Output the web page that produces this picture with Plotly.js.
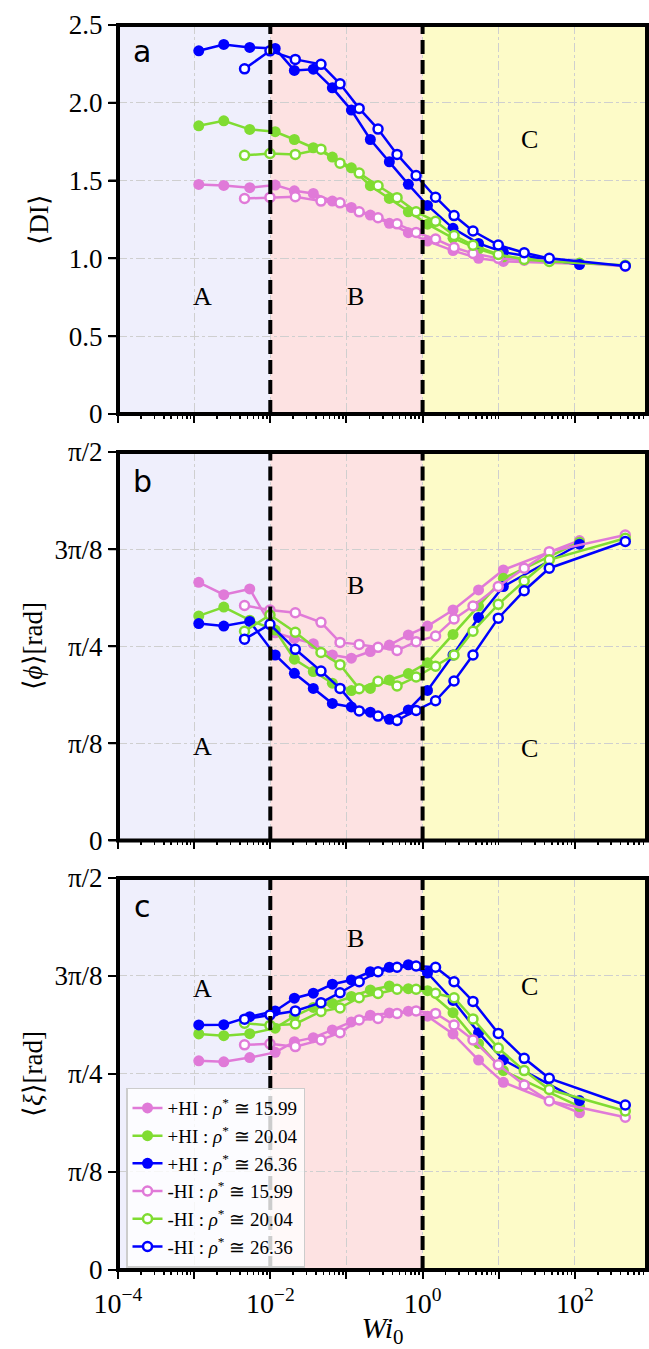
<!DOCTYPE html>
<html><head><meta charset="utf-8">
<script src="https://cdn.plot.ly/plotly-3.0.1.min.js"></script>
<style>html,body{margin:0;padding:0;background:#fff}</style>
</head><body><div id="chart" style="width:649px;height:1349px"></div>
<script>
// x values (Wi0) for +HI (filled) and -HI (open) runs
const wiPlusHI  = [0.00115, 0.00245, 0.00537, 0.0116, 0.0207, 0.0367, 0.0653, 0.116, 0.206, 0.366, 0.650, 1.16, 2.51, 5.43, 11.5, 115];
const wiMinusHI = [0.00459, 0.0099, 0.0213, 0.0463, 0.0824, 0.147, 0.26, 0.462, 0.822, 1.48, 2.59, 4.59, 9.86, 21.6, 46.1, 459];

const seriesLabels = [
  '+HI : <i>ρ</i><sup>*</sup> ≅ 15.99',
  '+HI : <i>ρ</i><sup>*</sup> ≅ 20.04',
  '+HI : <i>ρ</i><sup>*</sup> ≅ 26.36',
  '-HI : <i>ρ</i><sup>*</sup> ≅ 15.99',
  '-HI : <i>ρ</i><sup>*</sup> ≅ 20.04',
  '-HI : <i>ρ</i><sup>*</sup> ≅ 26.36'
];

// panel a: <DI>
const diPlus1599  = [1.475, 1.469, 1.454, 1.471, 1.434, 1.417, 1.368, 1.327, 1.278, 1.225, 1.165, 1.111, 1.05, 1.0, 0.98, 0.965];
const diPlus2004  = [1.852, 1.884, 1.829, 1.814, 1.764, 1.711, 1.651, 1.582, 1.467, 1.385, 1.299, 1.22, 1.13, 1.06, 1.01, 0.97];
const diPlus2636  = [2.334, 2.375, 2.356, 2.349, 2.208, 2.216, 2.096, 1.953, 1.764, 1.621, 1.476, 1.34, 1.193, 1.096, 1.04, 0.96];
const diMinus1599 = [1.385, 1.392, 1.396, 1.368, 1.357, 1.299, 1.261, 1.222, 1.167, 1.124, 1.07, 1.032, 1.0, 0.988, 0.985, 0.95];
const diMinus2004 = [1.662, 1.674, 1.668, 1.702, 1.612, 1.548, 1.467, 1.39, 1.299, 1.238, 1.147, 1.085, 1.025, 0.993, 0.98, 0.955];
const diMinus2636 = [2.218, 2.334, 2.279, 2.247, 2.122, 1.964, 1.831, 1.668, 1.532, 1.393, 1.275, 1.176, 1.086, 1.036, 1.0, 0.951];

// panel b: <phi> [rad]
const phiPlus1599  = [1.044, 0.994, 1.017, 0.840, 0.817, 0.796, 0.750, 0.737, 0.764, 0.790, 0.831, 0.867, 0.932, 1.013, 1.094, 1.213];
const phiPlus2004  = [0.908, 0.944, 0.891, 0.851, 0.733, 0.683, 0.636, 0.606, 0.615, 0.649, 0.675, 0.719, 0.833, 0.948, 1.060, 1.206];
const phiPlus2636  = [0.877, 0.867, 0.886, 0.750, 0.676, 0.615, 0.554, 0.540, 0.519, 0.490, 0.528, 0.607, 0.750, 0.902, 1.027, 1.198];
const phiMinus1599 = [0.950, 0.932, 0.921, 0.882, 0.801, 0.793, 0.781, 0.768, 0.804, 0.827, 0.896, 0.948, 1.027, 1.101, 1.168, 1.235];
const phiMinus2004 = [0.846, 0.912, 0.842, 0.760, 0.711, 0.614, 0.644, 0.625, 0.661, 0.705, 0.750, 0.846, 0.955, 1.049, 1.135, 1.222];
const phiMinus2636 = [0.814, 0.874, 0.773, 0.685, 0.615, 0.524, 0.503, 0.485, 0.526, 0.565, 0.645, 0.750, 0.899, 1.010, 1.101, 1.209];

// panel c: <xi> [rad]
const xiPlus1599  = [0.838, 0.834, 0.851, 0.872, 0.915, 0.931, 0.962, 0.994, 1.021, 1.030, 1.037, 1.017, 0.946, 0.841, 0.752, 0.630];
const xiPlus2004  = [0.946, 0.939, 0.947, 0.969, 1.017, 1.052, 1.068, 1.096, 1.122, 1.138, 1.127, 1.119, 1.031, 0.908, 0.799, 0.655];
const xiPlus2636  = [0.982, 0.983, 1.015, 1.038, 1.089, 1.109, 1.145, 1.162, 1.195, 1.213, 1.223, 1.190, 1.080, 0.951, 0.842, 0.679];
const xiMinus1599 = [0.902, 0.906, 0.895, 0.922, 0.951, 1.002, 1.008, 1.028, 1.038, 1.028, 0.982, 0.922, 0.822, 0.741, 0.677, 0.612];
const xiMinus2004 = [0.989, 0.980, 0.986, 1.036, 1.050, 1.091, 1.108, 1.125, 1.125, 1.109, 1.091, 1.006, 0.889, 0.799, 0.723, 0.637];
const xiMinus2636 = [1.005, 1.022, 1.038, 1.071, 1.111, 1.155, 1.195, 1.213, 1.218, 1.213, 1.155, 1.076, 0.948, 0.848, 0.768, 0.661];

const regionLabels = ['A', 'B', 'C'];
const panelLetters = ['a', 'b', 'c'];
const xTickVals = [1e-4, 1e-3, 1e-2, 1e-1, 1, 10, 100];
const xTickText = ['10<sup>−4</sup>', '', '10<sup>−2</sup>', '', '10<sup>0</sup>', '', '10<sup>2</sup>'];
const diTickVals = [0, 0.5, 1.0, 1.5, 2.0, 2.5];
const diTickText = ['0', '0.5', '1.0', '1.5', '2.0', '2.5'];
const piTickVals = [0, Math.PI / 8, Math.PI / 4, 3 * Math.PI / 8, Math.PI / 2];
const piTickText = ['0', 'π/8', 'π/4', '3π/8', 'π/2'];

const colors = ['#e07ad8', '#80dc32', '#0000ff', '#e07ad8', '#80dc32', '#0000ff'];
const SERIF = 'Liberation Serif';

const panels = [
  {data: [diPlus1599, diPlus2004, diPlus2636, diMinus1599, diMinus2004, diMinus2636], ax: '', ticks: diTickVals},
  {data: [phiPlus1599, phiPlus2004, phiPlus2636, phiMinus1599, phiMinus2004, phiMinus2636], ax: '2', ticks: piTickVals},
  {data: [xiPlus1599, xiPlus2004, xiPlus2636, xiMinus1599, xiMinus2004, xiMinus2636], ax: '3', ticks: piTickVals}
];

const traces = [];
panels.forEach((p, pi) => {
  p.data.forEach((ys, si) => {
    const filled = si < 3;
    traces.push({
      type: 'scatter', mode: 'lines+markers',
      x: filled ? wiPlusHI : wiMinusHI, y: ys,
      xaxis: 'x' + p.ax, yaxis: 'y' + p.ax,
      name: seriesLabels[si], legendgroup: 'g' + si,
      showlegend: pi === 2,
      line: {color: colors[si], width: 2.5},
      marker: filled
        ? {symbol: 'circle', size: 11, color: colors[si], line: {color: colors[si], width: 0}}
        : {symbol: 'circle', size: 9, color: '#ffffff', line: {color: colors[si], width: 2.5}}
    });
  });
});

// layout geometry: paper spans x 100..647 px, axes start at 118 px
const MARGIN_L = 100;
const PAPER_W = 649 - MARGIN_L - 2;
const X0 = 18 / PAPER_W;
const px = v => (v - MARGIN_L) / PAPER_W;
const domains = [[0.6876, 1.0], [0.345, 0.657], [0, 0.3149]];
const yTops = [2.5, Math.PI / 2, Math.PI / 2];
const gridCol = '#cfcfcf';
const xMax = 885; // right edge of the axes (10^2.947)

function xAxis(i) {
  const ax = {
    type: 'log', range: [-4, 2.947], domain: [X0, 1],
    anchor: 'y' + (i ? i + 1 : ''),
    tickmode: 'array', tickvals: xTickVals, ticktext: xTickText,
    showticklabels: i === 2,
    ticks: 'outside', ticklen: 8, tickwidth: 2, tickcolor: '#000',
    minor: {dtick: 'D1', ticks: 'outside', ticklen: 4, tickwidth: 1.5, tickcolor: '#000', showgrid: false},
    showline: false,
    showgrid: true, gridcolor: gridCol, gridwidth: 1, griddash: 'dashdot',
    zeroline: false,
    tickfont: {family: SERIF, size: 28, color: '#000'}
  };
  if (i === 2) ax.title = {text: '<i>Wi</i><sub>0</sub>', font: {family: SERIF, size: 30, color: '#000'}, standoff: 4};
  return ax;
}
function yAxis(i, opts) {
  return Object.assign({
    domain: domains[i], anchor: 'x' + (i ? i + 1 : ''),
    range: [0, yTops[i]], tickmode: 'array',
    ticks: 'outside', ticklen: 9, tickwidth: 2, tickcolor: '#000',
    showline: false,
    showgrid: true, gridcolor: gridCol, gridwidth: 1, griddash: 'dashdot',
    zeroline: false,
    tickfont: {family: SERIF, size: 27, color: '#000'}
  }, opts);
}

const layout = {
  width: 649, height: 1349,
  margin: {l: MARGIN_L, r: 2, t: 25, b: 79},
  paper_bgcolor: '#ffffff', plot_bgcolor: '#ffffff',
  font: {family: SERIF, color: '#000'},
  showlegend: true,
  legend: {
    x: px(126), y: 0.1465, xanchor: 'left', yanchor: 'top',
    bgcolor: 'rgba(255,255,255,0.8)', bordercolor: '#cccccc', borderwidth: 1.5,
    font: {family: SERIF, size: 19, color: '#000'},
    tracegroupgap: 0
  },
  xaxis: xAxis(0), xaxis2: xAxis(1), xaxis3: xAxis(2),
  yaxis: yAxis(0, {tickvals: diTickVals, ticktext: diTickText,
    title: {text: '⟨DI⟩', font: {family: SERIF, size: 27}, standoff: 12}}),
  yaxis2: yAxis(1, {tickvals: piTickVals, ticktext: piTickText,
    title: {text: '⟨<i>ϕ</i>⟩[rad]', font: {family: SERIF, size: 27}, standoff: 4}}),
  yaxis3: yAxis(2, {tickvals: piTickVals, ticktext: piTickText,
    title: {text: '⟨<i>ξ</i>⟩[rad]', font: {family: SERIF, size: 27}, standoff: 4}}),
  shapes: [], annotations: []
};

const regionFill = ['#efeffc', '#fde2e2', '#fdfbc8'];
const regionEdges = [[1e-4, 1e-2], [1e-2, 1], [1, xMax]];
['', '2', '3'].forEach((ax, i) => {
  regionEdges.forEach((e, k) => {
    layout.shapes.push({type: 'rect', xref: 'x' + ax, yref: 'y' + ax, x0: e[0], x1: e[1],
      y0: 0, y1: yTops[i], fillcolor: regionFill[k], line: {width: 0}, layer: 'below'});
  });
});
['', '2', '3'].forEach((ax, i) => {
  [1e-2, 1].forEach(xv => {
    layout.shapes.push({type: 'line', xref: 'x' + ax, yref: 'y' + ax, x0: xv, x1: xv,
      y0: 0, y1: yTops[i], line: {color: '#000', width: 4, dash: '14px,6px'}, layer: 'above'});
  });
});
// thick axes frames
domains.forEach(d => {
  layout.shapes.push({type: 'rect', xref: 'paper', yref: 'paper', x0: X0, x1: 1, y0: d[0], y1: d[1],
    line: {color: '#000', width: 4}, fillcolor: 'rgba(0,0,0,0)', layer: 'above'});
});

// y-axis outside tick marks drawn as head-less annotation arrows at each tick value
panels.forEach(p => {
  p.ticks.forEach(v => {
    layout.annotations.push({xref: 'paper', yref: 'y' + p.ax, x: X0, y: v, text: '',
      showarrow: true, arrowhead: 0, arrowwidth: 2, arrowcolor: '#000', ax: -11, ay: 0,
      standoff: 0, startstandoff: 0});
  });
});

// panel letters
const letterY = [0.9785, 0.633, 0.2918];
panelLetters.forEach((t, i) => {
  layout.annotations.push({xref: 'paper', yref: 'paper', x: px(142), y: letterY[i], text: t, showarrow: false,
    xanchor: 'center', yanchor: 'middle', font: {family: 'DejaVu Sans', size: 30, color: '#000'}});
});
// region labels: [x(log), y] per panel
const regionPos = [
  [[-2.885, 0.758], [-0.88, 0.758], [1.41, 1.761]],
  [[-2.885, 0.382], [-0.88, 1.033], [1.41, 0.373]],
  [[-2.885, 1.129], [-0.88, 1.329], [1.41, 1.135]]
];
['', '2', '3'].forEach((ax, i) => {
  regionLabels.forEach((t, k) => {
    layout.annotations.push({xref: 'x' + ax, yref: 'y' + ax, x: regionPos[i][k][0], y: regionPos[i][k][1], text: t,
      showarrow: false, xanchor: 'center', yanchor: 'middle', font: {family: SERIF, size: 26, color: '#000'}});
  });
});

Plotly.newPlot('chart', traces, layout, {displayModeBar: false, staticPlot: true});
</script>
</body></html>
